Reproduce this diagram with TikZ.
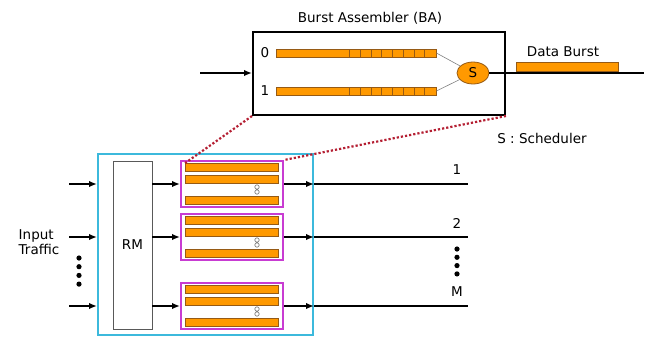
\documentclass[tikz,border=0pt]{standalone}
\usepackage{fontspec}
\setmainfont{DejaVu Sans}
\usetikzlibrary{shapes.geometric,arrows.meta,positioning,calc}
\definecolor{cBar}    {RGB}{255,153,0}
\definecolor{cBarLine}{RGB}{150,90,20}
\definecolor{cRouter} {RGB}{60,185,220}
\definecolor{cBuf}    {RGB}{200,60,210}
\definecolor{cZoom}   {RGB}{180,30,50}

\begin{document}
\begin{tikzpicture}[x=1pt, y=-1pt,
    txt/.style={font=\fontsize{13.5}{15.5}\selectfont, inner sep=0pt},
    bar/.style={rectangle, draw=cBarLine, fill=cBar, line width=0.8pt, inner sep=0pt},
    frame/.style={rectangle, draw, line width=2pt, inner sep=0pt},
    arr/.style={-{Latex[length=8pt,width=6.5pt]}, line width=1.8pt},
    wire/.style={line width=1.8pt},
    % dotted zoom lines from the buffer up to the assembler
    zoomline/.style={cZoom, dotted, line width=2.2pt},
]
\useasboundingbox (0,0) rectangle (647,338);

% --- Burst assembler (BA)
\node[frame, minimum width=252pt, minimum height=83pt] (ba) at (379,73.5) {};
\node[txt] (batitle) at (370,18) {Burst Assembler (BA)};
\node[bar, minimum width=160pt, minimum height=8pt] (q0) at (356,53) {};
\node[bar, minimum width=160pt, minimum height=8pt] (q1) at (356,91) {};
\foreach \q in {q0,q1}
  \foreach \k in {0,...,7}
    \draw[cBarLine, line width=0.8pt] ($(\q.south west)+(74+10.75*\k,0)$)
        -- ($(\q.north west)+(74+10.75*\k,0)$);
\node[txt] (l0) at (265,53) {0};
\node[txt] (l1) at (265,91) {1};
\node[ellipse, draw=cBarLine, fill=cBar, line width=0.8pt, minimum width=32pt,
      minimum height=22pt, txt] (s) at (473,73) {S};
\draw[gray, line width=0.6pt] (q0.east) -- (s);
\draw[gray, line width=0.6pt] (q1.east) -- (s);
\coordinate (bain) at (200,73);
\coordinate (baout) at (644,73);
\draw[arr] (bain) -- (bain -| ba.west);
\draw[wire] (s.east) -- (baout);
\node[bar, minimum width=102pt, minimum height=9pt] (db) at (567,66.5) {};
\node[txt] (dblabel) at (563,52) {Data Burst};
\node[txt] (schedlabel) at (542,138) {S : Scheduler};

% --- Router with routing module (RM) and burst buffers
\node[frame, draw=cRouter, minimum width=215pt, minimum height=181pt] (rn) at (205.5,244.5) {};
\node[rectangle, draw=gray!70!black, line width=0.8pt, minimum width=39pt,
      minimum height=168pt, txt] (rm) at (132.5,245) {RM};
\node[txt, align=left] (intxt) at (39,242) {Input\\Traffic};

\foreach \i/\y/\lab in {1/184/1, 2/237/2, 3/306/M} {
  \node[frame, draw=cBuf, minimum width=102pt, minimum height=46pt] (bq\i) at (232,\y) {};
  \foreach \j/\dy in {1/-16.5, 2/-5, 3/16.5}
    \node[bar, minimum width=93pt, minimum height=8pt] (b\i\j) at (232,\y+\dy) {};
  \draw[gray, line width=0.7pt] (257,\y+3) circle (2.2pt) (257,\y+8) circle (2.2pt);
  \coordinate (in\i) at (69,\y);
  \coordinate (out\i) at (468,\y);
  \draw[arr] (in\i) -- (in\i -| rn.west);
  \draw[arr] (rm.east |- bq\i.west) -- (bq\i.west);
  \draw[arr] (bq\i.east) -- (bq\i.east -| rn.east);
  \draw[wire] (bq\i.east -| rn.east) -- (out\i);
  \node[txt] (o\i) at (457,\y-14) {\lab};
}
\foreach \d in {0,...,3} {
  \fill (79,258+8.7*\d) circle (2.6pt);
  \fill (457,249+8.3*\d) circle (2.6pt);
}

% --- Zoom lines
\draw[zoomline] (ba.south west) -- (b11.north west);
\draw[zoomline] (ba.south east) -- (bq1.north east);
\end{tikzpicture}
\end{document}
